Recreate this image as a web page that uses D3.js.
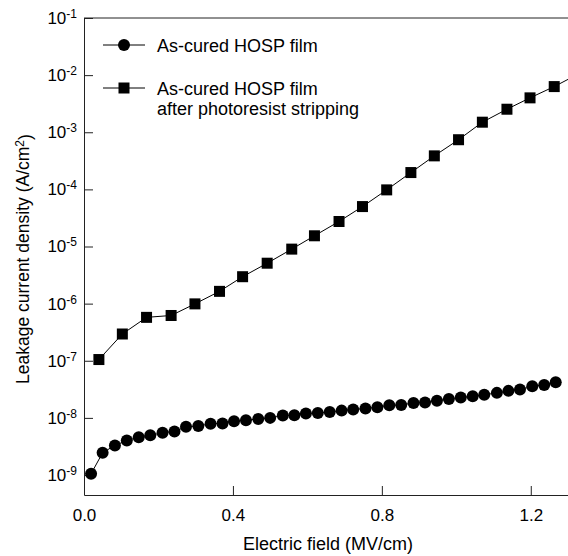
<!DOCTYPE html>
<html>
<head>
<meta charset="utf-8">
<script src="https://cdn.jsdelivr.net/npm/d3@7"></script>
<style>
  body { margin: 0; background: #fff; }
  svg { display: block; font-family: "Liberation Sans", Arial, sans-serif; }
</style>
</head>
<body>
<svg width="568" height="556"></svg>
<script>
// as-cured film (circles)
const curedField = [0.019, 0.050, 0.083, 0.115, 0.147, 0.178, 0.211, 0.243, 0.274, 0.307,
    0.340, 0.372, 0.403, 0.435, 0.468, 0.500, 0.534, 0.565, 0.596, 0.628,
    0.660, 0.692, 0.723, 0.756, 0.788, 0.820, 0.852, 0.885, 0.916, 0.948,
    0.980, 1.012, 1.044, 1.075, 1.109, 1.140, 1.171, 1.204, 1.236, 1.267];
const curedCurrent = [1.05e-9, 2.45e-9, 3.3e-9, 4.0e-9, 4.6e-9, 4.95e-9, 5.5e-9, 5.8e-9, 7.0e-9, 7.2e-9,
    7.9e-9, 8.0e-9, 8.7e-9, 9.1e-9, 9.6e-9, 1.0e-8, 1.1e-8, 1.11e-8, 1.19e-8, 1.22e-8,
    1.27e-8, 1.34e-8, 1.40e-8, 1.46e-8, 1.53e-8, 1.66e-8, 1.68e-8, 1.83e-8, 1.86e-8, 1.99e-8,
    2.15e-8, 2.27e-8, 2.39e-8, 2.53e-8, 2.74e-8, 2.97e-8, 3.13e-8, 3.57e-8, 3.78e-8, 4.2e-8];

// after photoresist stripping (squares)
const strippedField = [0.040, 0.103, 0.168, 0.234, 0.298, 0.364, 0.426, 0.492, 0.558, 0.619,
    0.685, 0.748, 0.813, 0.878, 0.941, 1.006, 1.070, 1.136, 1.198, 1.263, 1.328];
const strippedCurrent = [1.05e-7, 2.94e-7, 5.75e-7, 6.2e-7, 9.9e-7, 1.64e-6, 2.96e-6, 5.1e-6, 9.0e-6, 1.54e-5,
    2.74e-5, 5.0e-5, 9.8e-5, 1.97e-4, 3.86e-4, 7.4e-4, 1.50e-3, 2.53e-3, 4.0e-3, 6.3e-3, 1.05e-2];

const xTicks = [0, 0.4, 0.8, 1.2];
const yExponents = [-9, -8, -7, -6, -5, -4, -3, -2, -1];

const legendLabels = [['As-cured HOSP film'], ['As-cured HOSP film', 'after photoresist stripping']];

const svg = d3.select('svg');
const width = +svg.attr('width');
const height = +svg.attr('height');

const margin = { top: 18, right: 0, bottom: 61, left: 84 };
const x0 = margin.left, x1 = width - margin.right;
const y0 = height - margin.bottom, y1 = margin.top;

const xScale = d3.scaleLinear().domain([0, 1.3]).range([x0, x1]);
const yScale = d3.scaleLog().domain([Math.pow(10, -9.35), 1e-1]).range([y0, y1]);

const axisColor = '#222';

// AXES
const xAxis = d3.axisBottom(xScale)
    .tickValues(xTicks)
    .tickFormat(d3.format('.1f'))
    .tickSizeInner(-9)
    .tickSizeOuter(0)
    .tickPadding(14);

const yAxis = d3.axisLeft(yScale)
    .tickValues(yExponents.map(e => Math.pow(10, e)))
    .tickSizeInner(-9)
    .tickSizeOuter(0)
    .tickPadding(7);

const gx = svg.append('g')
    .attr('transform', `translate(0, ${y0})`)
    .call(xAxis);
gx.selectAll('text').attr('font-size', 17).attr('fill', '#000').attr('font-family', null);

const gy = svg.append('g')
    .attr('transform', `translate(${x0}, 0)`)
    .call(yAxis);
gy.selectAll('text')
    .attr('fill', '#000')
    .attr('font-family', null)
    .attr('font-size', 17)
    .text(null)
    .each(function(d) {
        const t = d3.select(this);
        const e = Math.round(Math.log10(d));
        t.append('tspan').text('10');
        t.append('tspan').attr('dy', '-0.5em').attr('font-size', 12).text(e);
    });

[gx, gy].forEach(g => {
    g.select('.domain').attr('stroke', axisColor);
    g.selectAll('.tick line').attr('stroke', axisColor);
});

// top frame line
svg.append('line')
    .attr('x1', x0).attr('x2', x1)
    .attr('y1', y1).attr('y2', y1)
    .attr('stroke', axisColor);

// AXIS TITLES
svg.append('text')
    .attr('x', (x0 + x1) / 2 + 2)
    .attr('y', 550)
    .attr('text-anchor', 'middle')
    .attr('font-size', 18)
    .text('Electric field (MV/cm)');

const yTitle = svg.append('text')
    .attr('transform', 'translate(29, 384) rotate(-90)')
    .attr('font-size', 17.5);
yTitle.append('tspan').text('Leakage current density (A/cm');
yTitle.append('tspan').attr('dy', '-0.45em').attr('font-size', 12).text('2');
yTitle.append('tspan').attr('dy', '0.45em').text(')');

// DATA
const line = d3.line()
    .x(d => xScale(d[0]))
    .y(d => yScale(d[1]));

const cured = curedField.map((f, i) => [f, curedCurrent[i]]);
const stripped = strippedField.map((f, i) => [f, strippedCurrent[i]]);

svg.append('path')
    .datum(cured)
    .attr('d', line)
    .attr('fill', 'none')
    .attr('stroke', '#000')
    .attr('stroke-width', 1);

svg.append('path')
    .datum(stripped)
    .attr('d', line)
    .attr('fill', 'none')
    .attr('stroke', '#000')
    .attr('stroke-width', 1);

const sq = 11;
svg.append('g').selectAll('rect')
    .data(stripped)
    .enter()
    .append('rect')
        .attr('x', d => xScale(d[0]) - sq / 2)
        .attr('y', d => yScale(d[1]) - sq / 2)
        .attr('width', sq)
        .attr('height', sq)
        .attr('fill', '#000');

svg.append('g').selectAll('circle')
    .data(cured)
    .enter()
    .append('circle')
        .attr('cx', d => xScale(d[0]))
        .attr('cy', d => yScale(d[1]))
        .attr('r', 6)
        .attr('fill', '#000');

// LEGEND
const legend = svg.append('g');
const legendRows = [45, 88];
legendRows.forEach((ly, i) => {
    legend.append('line')
        .attr('x1', 103).attr('x2', 145)
        .attr('y1', ly).attr('y2', ly)
        .attr('stroke', '#000');
    if (i === 0) {
        legend.append('circle').attr('cx', 124).attr('cy', ly).attr('r', 6).attr('fill', '#000');
    } else {
        legend.append('rect').attr('x', 124 - sq / 2).attr('y', ly - sq / 2)
            .attr('width', sq).attr('height', sq).attr('fill', '#000');
    }
    legendLabels[i].forEach((txt, j) => {
        legend.append('text')
            .attr('x', 157)
            .attr('y', ly + 6.5 + j * 20)
            .attr('font-size', 18)
            .text(txt);
    });
});
</script>
</body>
</html>
